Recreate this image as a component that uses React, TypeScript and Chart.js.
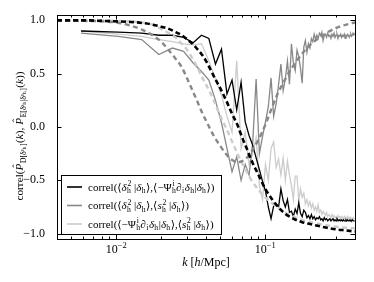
import React, { useEffect, useRef } from "react";
import { Chart, registerables } from "chart.js";

Chart.register(...registerables);

// ---------- data ----------
const kBins = [
  0.0058, 0.0103, 0.0148, 0.0193, 0.0238, 0.0283, 0.0328, 0.0373, 0.0418, 0.0463,
  0.0508, 0.0553, 0.0598, 0.0643, 0.0688, 0.0733, 0.0778, 0.0823, 0.0868, 0.0913,
  0.0958, 0.1003, 0.1048, 0.1093, 0.1138, 0.1183, 0.1228, 0.1273, 0.1318, 0.1363,
  0.1408, 0.1453, 0.1498, 0.1543, 0.1588, 0.1633, 0.1678, 0.1723, 0.1768, 0.1813,
  0.1858, 0.1903, 0.1948, 0.1993, 0.2038, 0.2083, 0.2128, 0.2173, 0.2218, 0.2263,
  0.2308, 0.2353, 0.2398, 0.2443, 0.2488, 0.2533, 0.2578, 0.2623, 0.2668, 0.2713,
  0.2758, 0.2803, 0.2848, 0.2893, 0.2938, 0.2983, 0.3028, 0.3073, 0.3118, 0.3163,
  0.3208, 0.3253, 0.3298, 0.3343, 0.3388, 0.3433, 0.3478, 0.3523, 0.3568, 0.3613,
  0.3658, 0.3703, 0.3748, 0.3793, 0.3838, 0.3883, 0.3928, 0.3973,
];

// correl(<d2|d>, <-Psi d d|d>)  (black)
const corrD2Psi = [
  0.90, 0.89, 0.88, 0.86, 0.86, 0.84, 0.79, 0.86, 0.83, 0.59,
  0.73, 0.31, 0.44, 0.16, 0.42, 0.05, -0.08, -0.17, -0.29, -0.40,
  -0.51, -0.60, -0.75, -0.86, -0.74, -0.72, -0.75, -0.58, -0.69, -0.75,
  -0.68, -0.80, -0.79, -0.84, -0.77, -0.81, -0.71, -0.81, -0.84, -0.78,
  -0.80, -0.85, -0.83, -0.86, -0.82, -0.86, -0.84, -0.87, -0.85, -0.86,
  -0.84, -0.87, -0.86, -0.88, -0.85, -0.87, -0.86, -0.88, -0.87, -0.86,
  -0.88, -0.87, -0.86, -0.88, -0.87, -0.88, -0.86, -0.87, -0.88, -0.87,
  -0.88, -0.87, -0.88, -0.87, -0.88, -0.88, -0.87, -0.88, -0.87, -0.88,
  -0.88, -0.87, -0.88, -0.88, -0.87, -0.88, -0.88, -0.88,
];

// correl(<d2|d>, <s2|d>)  (mid grey)
const corrD2S2 = [
  0.88, 0.85, 0.82, 0.68, 0.74, 0.71, 0.60, 0.52, 0.44, 0.25,
  0.04, -0.20, -0.42, -0.28, -0.50, -0.35, -0.45, -0.15, 0.45, -0.25,
  -0.09, 0.05, 0.19, 0.46, 0.10, 0.22, 0.40, 0.59, 0.34, 0.45,
  0.62, 0.40, 0.78, 0.60, 0.53, 0.72, 0.66, 0.55, 0.41, 0.75,
  0.81, 0.70, 0.78, 0.74, 0.83, 0.80, 0.87, 0.82, 0.86, 0.83,
  0.88, 0.86, 0.89, 0.81, 0.86, 0.87, 0.84, 0.88, 0.85, 0.86,
  0.83, 0.87, 0.85, 0.88, 0.84, 0.86, 0.87, 0.83, 0.86, 0.85,
  0.87, 0.84, 0.86, 0.85, 0.87, 0.83, 0.86, 0.85, 0.87, 0.86,
  0.84, 0.86, 0.87, 0.85, 0.86, 0.88, 0.87, 0.88,
];

// correl(<-Psi d d|d>, <s2|d>)  (light grey)
const corrPsiS2 = [
  0.90, 0.87, 0.85, 0.82, 0.80, 0.78, 0.77, 0.78, 0.62, 0.45,
  0.30, 0.10, -0.05, 0.62, -0.20, -0.05, -0.35, -0.25, -0.10, -0.55,
  -0.68, -0.35, -0.50, -0.20, -0.14, -0.38, -0.30, -0.45, -0.29, -0.50,
  -0.32, -0.45, -0.55, -0.68, -0.46, -0.46, -0.70, -0.58, -0.66, -0.62,
  -0.72, -0.68, -0.74, -0.70, -0.76, -0.72, -0.78, -0.75, -0.79, -0.73,
  -0.80, -0.78, -0.82, -0.79, -0.81, -0.83, -0.80, -0.84, -0.82, -0.83,
  -0.85, -0.82, -0.84, -0.83, -0.85, -0.84, -0.86, -0.83, -0.85, -0.84,
  -0.86, -0.84, -0.85, -0.86, -0.84, -0.86, -0.85, -0.86, -0.84, -0.86,
  -0.85, -0.86, -0.85, -0.86, -0.86, -0.85, -0.86, -0.86,
];

const kTheory = [
  0.004, 0.006, 0.008, 0.01, 0.0125, 0.015, 0.0175, 0.02, 0.0225, 0.025,
  0.0275, 0.03, 0.0325, 0.035, 0.0375, 0.04, 0.045, 0.05, 0.055, 0.06,
  0.065, 0.07, 0.075, 0.08, 0.09, 0.1, 0.11, 0.12, 0.135, 0.15,
  0.175, 0.2, 0.25, 0.3, 0.35, 0.4,
];
const theoryD2Psi = [
  1.0, 1.0, 0.995, 0.99, 0.985, 0.975, 0.96, 0.94, 0.92, 0.89,
  0.86, 0.82, 0.78, 0.73, 0.68, 0.62, 0.48, 0.36, 0.24, 0.12,
  0.02, -0.10, -0.20, -0.30, -0.45, -0.58, -0.67, -0.74, -0.81, -0.85,
  -0.89, -0.91, -0.94, -0.96, -0.97, -0.98,
];
const theoryD2S2 = [
  1.0, 0.995, 0.99, 0.98, 0.95, 0.91, 0.86, 0.80, 0.72, 0.64,
  0.56, 0.45, 0.34, 0.24, 0.14, 0.06, -0.08, -0.18, -0.26, -0.31,
  -0.33, -0.32, -0.29, -0.24, -0.12, 0.02, 0.17, 0.30, 0.44, 0.55,
  0.68, 0.77, 0.87, 0.93, 0.96, 0.98,
];
const theoryPsiS2 = [
  1.0, 1.0, 1.0, 0.995, 0.99, 0.98, 0.96, 0.92, 0.88, 0.84,
  0.78, 0.72, 0.64, 0.56, 0.47, 0.40, 0.25, 0.10, -0.02, -0.14,
  -0.25, -0.34, -0.42, -0.49, -0.59, -0.66, -0.71, -0.75, -0.80, -0.83,
  -0.87, -0.89, -0.92, -0.935, -0.945, -0.95,
];

const xTicks = [0.01, 0.1];
const xTickBase = ["10", "10"];
const xTickExp = ["\u22122", "\u22121"];
const yTicks = [-1, -0.5, 0, 0.5, 1];
const yTickLabels = ["\u22121.0", "\u22120.5", "0.0", "0.5", "1.0"];

// ---------- text (rich tokens) ----------
type Tok = { t?: string; it?: boolean; sup?: string; sub?: string; hat?: boolean };

const legendLabels: Tok[][] = [
  [
    { t: "correl(\u27E8" }, { t: "\u03B4", it: true }, { sup: "2", sub: "h" }, { t: " |" },
    { t: "\u03B4", it: true }, { sub: "h" }, { t: "\u27E9,\u27E8\u2212\u03A8" }, { sup: "i", sub: "h" },
    { t: "\u2202", it: true }, { sub: "i" }, { t: "\u03B4", it: true }, { sub: "h" }, { t: "|" },
    { t: "\u03B4", it: true }, { sub: "h" }, { t: "\u27E9)" },
  ],
  [
    { t: "correl(\u27E8" }, { t: "\u03B4", it: true }, { sup: "2", sub: "h" }, { t: " |" },
    { t: "\u03B4", it: true }, { sub: "h" }, { t: "\u27E9,\u27E8" }, { t: "s", it: true },
    { sup: "2", sub: "h" }, { t: " |" }, { t: "\u03B4", it: true }, { sub: "h" }, { t: "\u27E9)" },
  ],
  [
    { t: "correl(\u27E8\u2212\u03A8" }, { sup: "i", sub: "h" }, { t: "\u2202", it: true }, { sub: "i" },
    { t: "\u03B4", it: true }, { sub: "h" }, { t: "|" }, { t: "\u03B4", it: true }, { sub: "h" },
    { t: "\u27E9,\u27E8" }, { t: "s", it: true }, { sup: "2", sub: "h" }, { t: " |" },
    { t: "\u03B4", it: true }, { sub: "h" }, { t: "\u27E9)" },
  ],
];

const yTitle: Tok[] = [
  { t: "correl(" }, { t: "P", it: true, hat: true }, { sub: "D[\u03B4\u02E2\u2095]" }, { t: "(" }, { t: "k", it: true },
  { t: "), " }, { t: "P", it: true, hat: true }, { sub: "E[\u03B4\u02E2\u2095|\u03B4\u02E2\u2095]" }, { t: "(" },
  { t: "k", it: true }, { t: "))" },
];
const xTitle: Tok[] = [
  { t: "k", it: true }, { t: " [" }, { t: "h", it: true }, { t: "/Mpc]" },
];

const lineStyles = [
  { color: "#000000", width: 1.3 },
  { color: "#888888", width: 1.3 },
  { color: "#cccccc", width: 1.3 },
];

const FAM = '"Liberation Serif", "DejaVu Serif", serif';

function rich(ctx: CanvasRenderingContext2D, toks: Tok[], x: number, y: number, size: number, draw: boolean): number {
  let cx = x;
  const small = size * 0.7;
  for (const tk of toks) {
    if (tk.t !== undefined) {
      ctx.font = `${tk.it ? "italic " : ""}${size}px ${FAM}`;
      const w = ctx.measureText(tk.t).width;
      if (draw) {
        ctx.fillText(tk.t, cx, y);
        if (tk.hat) {
          ctx.font = `${size * 0.9}px ${FAM}`;
          const hw = ctx.measureText("\u02C6").width;
          ctx.fillText("\u02C6", cx + w * 0.62 - hw / 2, y - size * 0.3);
        }
      }
      cx += w;
    } else {
      ctx.font = `${small}px ${FAM}`;
      const ws = tk.sup ? ctx.measureText(tk.sup).width : 0;
      const wb = tk.sub ? ctx.measureText(tk.sub).width : 0;
      if (draw) {
        if (tk.sup) ctx.fillText(tk.sup, cx + 0.8, y - size * 0.4);
        if (tk.sub) ctx.fillText(tk.sub, cx + 0.3, y + size * 0.25);
      }
      cx += Math.max(ws, wb) + 0.8;
    }
  }
  return cx - x;
}

const decorPlugin = {
  id: "decor",
  afterDatasetsDraw(chart: any) {
    const { ctx, chartArea: a, scales } = chart;
    const xs = scales.x;
    const ys = scales.y;
    ctx.save();
    ctx.strokeStyle = "#000";
    ctx.fillStyle = "#000";
    ctx.lineWidth = 1;
    const seg = (x1: number, y1: number, x2: number, y2: number) => {
      ctx.beginPath();
      ctx.moveTo(x1, y1);
      ctx.lineTo(x2, y2);
      ctx.stroke();
    };
    // x major / minor ticks (inward, mirrored)
    xTicks.forEach((v) => {
      const px = Math.round(xs.getPixelForValue(v)) + 0.5;
      seg(px, a.bottom, px, a.bottom - 4.5);
      seg(px, a.top, px, a.top + 4.5);
    });
    for (let e = -3; e <= 0; e++) {
      for (let m = 2; m <= 9; m++) {
        const v = m * Math.pow(10, e);
        if (v <= xs.min || v >= xs.max) continue;
        const px = Math.round(xs.getPixelForValue(v)) + 0.5;
        seg(px, a.bottom, px, a.bottom - 2.5);
        seg(px, a.top, px, a.top + 2.5);
      }
    }
    yTicks.forEach((v) => {
      const py = Math.round(ys.getPixelForValue(v)) + 0.5;
      seg(a.left, py, a.left + 4.5, py);
      seg(a.right, py, a.right - 4.5, py);
    });
    // frame
    ctx.strokeRect(Math.round(a.left) + 0.5, Math.round(a.top) + 0.5, Math.round(a.right - a.left), Math.round(a.bottom - a.top));

    // x tick labels  10^{-n}
    ctx.textBaseline = "alphabetic";
    xTicks.forEach((v, i) => {
      const px = xs.getPixelForValue(v);
      ctx.font = `12px ${FAM}`;
      const wb = ctx.measureText(xTickBase[i]).width;
      ctx.font = `8.5px ${FAM}`;
      const we = ctx.measureText(xTickExp[i]).width;
      const x0 = px - (wb + we) / 2;
      ctx.font = `12px ${FAM}`;
      ctx.fillText(xTickBase[i], x0, a.bottom + 14);
      ctx.font = `8.5px ${FAM}`;
      ctx.fillText(xTickExp[i], x0 + wb, a.bottom + 8.5);
    });

    // x title
    const xw = rich(ctx, xTitle, 0, 0, 12, false);
    rich(ctx, xTitle, (a.left + a.right) / 2 - xw / 2, a.bottom + 27, 12, true);

    // y title (rotated)
    const tsz = 11.3;
    const yw = rich(ctx, yTitle, 0, 0, tsz, false);
    ctx.save();
    ctx.translate(23, 136);
    ctx.rotate(-Math.PI / 2);
    rich(ctx, yTitle, -yw / 2, 0, tsz, true);
    ctx.restore();

    // legend
    const lsz = 11;
    const widths = legendLabels.map((l) => rich(ctx, l, 0, 0, lsz, false));
    const bx = a.left + 4;
    const by = a.top + 160;
    const bw = 29 + Math.max(...widths) + 5;
    const bh = 59;
    ctx.fillStyle = "#fff";
    ctx.fillRect(bx, by, bw, bh);
    ctx.strokeStyle = "#000";
    ctx.lineWidth = 1;
    ctx.strokeRect(Math.round(bx) + 0.5, Math.round(by) + 0.5, Math.round(bw), bh);
    legendLabels.forEach((l, i) => {
      const cy = by + 12 + i * 18.5;
      ctx.strokeStyle = lineStyles[i].color;
      ctx.lineWidth = 1.6;
      seg(bx + 6, cy, bx + 21, cy);
      ctx.fillStyle = "#000";
      rich(ctx, l, bx + 27, cy + 3.5, lsz, true);
    });
    ctx.restore();
  },
};

export default function App() {
  const ref = useRef<HTMLCanvasElement | null>(null);
  useEffect(() => {
    if (!ref.current) return;
    const solid = (vals: number[], i: number) => ({
      data: kBins.map((k, j) => ({ x: k, y: vals[j] })),
      borderColor: lineStyles[i].color,
      borderWidth: lineStyles[i].width,
      pointRadius: 0,
      tension: 0,
      fill: false,
    });
    const dashed = (vals: number[], color: string, width: number, dash: number[]) => ({
      data: kTheory.map((k, j) => ({ x: k, y: vals[j] })),
      borderColor: color,
      borderWidth: width,
      borderDash: dash,
      pointRadius: 0,
      cubicInterpolationMode: "monotone" as const,
      fill: false,
    });
    const chart = new Chart(ref.current, {
      type: "line",
      data: {
        datasets: [
          dashed(theoryD2Psi, "#000000", 2.6, [5, 3]),
          dashed(theoryD2S2, "#888888", 2.4, [5, 3.5]),
          dashed(theoryPsiS2, "#cccccc", 2.4, [5, 3.5]),
          solid(corrD2Psi, 0),
          solid(corrD2S2, 1),
          solid(corrPsiS2, 2),
        ] as any,
      },
      options: {
        responsive: false,
        animation: false,
        devicePixelRatio: 1,
        layout: { padding: { top: 15, right: 19, left: 0, bottom: 0 } },
        plugins: { legend: { display: false }, tooltip: { enabled: false } },
        scales: {
          x: {
            type: "logarithmic",
            min: 0.004,
            max: 0.4,
            grid: { display: false },
            border: { display: false },
            ticks: { display: false },
            afterFit: (s: any) => {
              s.height = 43;
            },
          },
          y: {
            type: "linear",
            min: -1.05,
            max: 1.05,
            grid: { display: false },
            border: { display: false },
            afterBuildTicks: (s: any) => {
              s.ticks = yTicks.map((v) => ({ value: v }));
            },
            ticks: {
              color: "#000",
              padding: 4,
              font: { family: FAM, size: 12 },
              callback: (v: any) => {
                const idx = yTicks.indexOf(Number(v));
                return idx >= 0 ? yTickLabels[idx] : "";
              },
            },
            afterFit: (s: any) => {
              s.width = 57;
            },
          },
        },
      } as any,
      plugins: [decorPlugin],
    });
    return () => chart.destroy();
  }, []);
  return (
    <div style={{ position: "fixed", left: 0, top: 0, width: 374, height: 282, background: "#fff" }}>
      <canvas ref={ref} width={374} height={282} style={{ display: "block" }} />
    </div>
  );
}
